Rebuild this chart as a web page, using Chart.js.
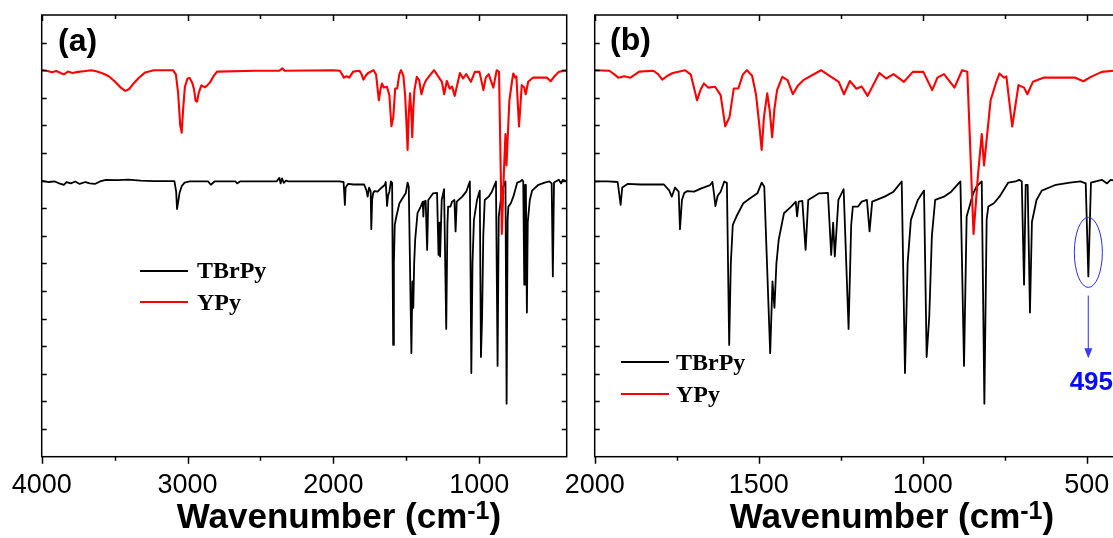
<!DOCTYPE html>
<html>
<head>
<meta charset="utf-8">
<title>FT-IR TBrPy / YPy</title>
<script src="https://cdn.jsdelivr.net/npm/chart.js@4.4.0/dist/chart.umd.min.js"></script>
<style>
    html, body { margin: 0; padding: 0; background: #fff; overflow: hidden; }
    #wrap { position: relative; width: 1113px; height: 538px; overflow: hidden; }
    .box { position: absolute; top: 0; height: 500px; }
    #boxA { left: 0; width: 580px; }
    #boxB { left: 550px; width: 590px; }
    .tag { position: absolute; font: bold 32px "Liberation Sans", Arial, sans-serif; line-height: 32px; }
    .xtitle { position: absolute; top: 498px; font: bold 35px "Liberation Sans", Arial, sans-serif; line-height: 35px; white-space: nowrap; transform: translateX(-50%); }
    .xtitle span { font-size: 25px; vertical-align: 9px; line-height: 20px; }
    .lg-line { position: absolute; width: 48px; height: 2px; }
    .lg-text { position: absolute; font: bold 24px "Liberation Serif", "Times New Roman", serif; line-height: 24px; white-space: nowrap; }
</style>
</head>
<body>
<div id="wrap">
    <div class="box" id="boxA"><canvas id="chartA"></canvas></div>
    <div class="box" id="boxB"><canvas id="chartB"></canvas></div>

    <div class="tag" style="left:58px; top:24px;">(a)</div>
    <div class="tag" style="left:610px; top:23px;">(b)</div>

    <div class="xtitle" style="left:339px;">Wavenumber (cm<span>-1</span>)</div>
    <div class="xtitle" style="left:892px;">Wavenumber (cm<span>-1</span>)</div>

    <!-- legend (a) -->
    <div class="lg-line" style="left:140px; top:270px; background:#000;"></div>
    <div class="lg-text" style="left:197px; top:258px;">TBrPy</div>
    <div class="lg-line" style="left:140px; top:301px; background:#ff0000;"></div>
    <div class="lg-text" style="left:197px; top:290px;">YPy</div>
    <!-- legend (b) -->
    <div class="lg-line" style="left:621px; top:361px; background:#000;"></div>
    <div class="lg-text" style="left:676px; top:350px;">TBrPy</div>
    <div class="lg-line" style="left:621px; top:393px; background:#ff0000;"></div>
    <div class="lg-text" style="left:676px; top:382px;">YPy</div>
</div>

<script>
// Spectra (wavenumber in cm-1, transmittance in offset units)
const tbrpyWn = [4000, 3950, 3910, 3880, 3848, 3830, 3800, 3770, 3740, 3700, 3670, 3635, 3600, 3560, 3480, 3410, 3320, 3235,
    3090, 3078, 3072, 3062, 3055, 3040, 3020, 2985, 2860, 2840, 2815, 2672, 2660, 2640, 2390, 2370, 2362, 2352, 2340, 2325, 2309,
    1960, 1930, 1925, 1921, 1916, 1900, 1860, 1789, 1773, 1765, 1755, 1744, 1740, 1734, 1727, 1718, 1697, 1675, 1648, 1641, 1636,
    1632, 1625, 1616, 1605, 1597, 1590, 1585, 1579, 1568, 1547, 1526, 1504, 1491, 1483, 1465, 1458, 1452, 1446, 1439, 1423, 1401,
    1387, 1383, 1378, 1367, 1357, 1349, 1316, 1289, 1279, 1273, 1268, 1257, 1241, 1226, 1218, 1213, 1197, 1186, 1170, 1162, 1154,
    1116, 1089, 1064, 1054, 1046, 1036, 1015, 996, 988, 980, 972, 962, 935, 913, 885, 874, 866, 846, 836, 820, 812, 805, 800,
    783, 766, 739, 717, 706, 698, 691, 686, 680, 673, 667, 653, 637, 594, 551, 519, 503, 495, 487, 454, 438, 427, 400];
const tbrpyT = [9.99, 9.95, 9.97, 9.9, 9.85, 9.95, 9.9, 9.97, 9.88, 9.95, 9.9, 9.88, 9.97, 10.03, 10.02, 10.04, 10.0, 9.98,
    9.98, 9.6, 8.97, 9.3, 9.55, 9.8, 9.93, 9.97, 9.97, 9.85, 9.97, 9.97, 9.9, 9.97, 9.97, 10.1, 9.9, 10.08, 9.92, 10.0, 9.97,
    9.97, 9.95, 9.5, 9.12, 9.75, 9.88, 9.86, 9.86, 9.65, 9.42, 9.75, 9.6, 8.24, 9.3, 9.55, 9.62, 9.6, 9.72, 9.84, 9.95, 9.5,
    9.08, 9.45, 9.6, 9.97, 9.92, 4.05, 7.0, 8.4, 8.7, 9.18, 9.36, 9.54, 9.93, 9.78, 3.75, 6.35, 5.39, 7.0, 7.86, 8.82, 9.06,
    9.24, 8.7, 9.24, 9.27, 7.49, 9.3, 9.54, 9.56, 7.31, 8.48, 7.25, 9.3, 9.69, 4.63, 8.4, 9.06, 9.06, 9.24, 9.3, 8.16, 9.24,
    9.42, 9.6, 9.97, 3.03, 7.0, 8.58, 9.3, 9.64, 3.61, 5.08, 8.0, 9.3, 9.42, 9.6, 9.97, 3.29, 8.7, 9.54, 9.78, 9.97, 1.92, 8.6, 9.06,
    9.18, 9.42, 9.93, 9.97, 10.03, 9.97, 6.23, 9.85, 9.85, 5.22, 8.5, 9.3, 9.64, 9.85, 9.93, 9.97, 9.9, 6.53, 9.93, 10.03, 9.9, 10.03, 9.97];

const ypyWn = [4000, 3960, 3930, 3900, 3870, 3848, 3820, 3790, 3750, 3700, 3660, 3620, 3580, 3540, 3500, 3460, 3427, 3400,
    3370, 3335, 3290, 3230, 3100, 3080, 3065, 3050, 3040, 3030, 3018, 3000, 2985, 2968, 2955, 2945, 2935, 2922, 2905, 2880,
    2865, 2847, 2820, 2797, 2535, 2370, 2350, 2335, 2000, 1955, 1940, 1928, 1910, 1891, 1864, 1821, 1806, 1794, 1778, 1762,
    1724, 1707, 1698, 1688, 1677, 1667, 1654, 1633, 1616, 1602, 1589, 1576, 1562, 1548, 1536, 1520, 1508, 1498, 1491, 1484,
    1474, 1466, 1459, 1452, 1444, 1428, 1412, 1396, 1380, 1364, 1310, 1256, 1240, 1222, 1202, 1186, 1168, 1132, 1111, 1089,
    1057, 1030, 998, 971, 955, 935, 903, 880, 864, 845, 831, 820, 813, 793, 775, 766, 752, 745, 727, 708, 691, 681, 664, 632,
    578, 535, 510, 487, 454, 419, 400];
const ypyT = [14.0, 13.97, 13.93, 13.97, 13.9, 13.85, 13.95, 13.9, 13.94, 13.97, 14.0, 13.95, 13.88, 13.78, 13.6, 13.38, 13.25, 13.32,
    13.52, 13.72, 13.92, 14.0, 14.0, 13.85, 13.2, 12.0, 11.74, 12.6, 13.4, 13.7, 13.72, 13.55, 13.3, 12.9, 12.86, 13.2, 13.45, 13.38,
    13.45, 13.55, 13.8, 13.95, 13.98, 13.98, 14.07, 13.98, 14.0, 13.98, 13.85, 13.73, 13.78, 13.73, 13.95, 13.98, 13.85, 13.66, 13.8, 13.9,
    14.0, 13.84, 13.4, 12.91, 13.3, 13.52, 13.37, 13.4, 13.1, 11.97, 12.3, 13.34, 13.34, 13.85, 14.0, 13.8, 13.1, 12.0, 11.11, 12.3,
    13.16, 12.5, 11.57, 12.6, 13.28, 13.76, 13.64, 13.13, 13.45, 13.64, 14.0, 13.58, 13.13, 13.61, 13.33, 13.41, 13.07, 13.9, 13.7, 13.86,
    13.58, 13.94, 13.94, 13.28, 13.73, 13.86, 13.37, 14.0, 13.94, 8.07, 10.27, 11.69, 10.55, 12.91, 13.6, 13.88, 13.73, 13.78, 11.96, 13.46, 13.37, 13.13, 13.58, 13.73,
    13.73, 13.73, 13.6, 13.76, 13.94, 13.98, 13.98];

// axis tick labels
const xTicksA = [1000, 2000, 3000, 4000];
const xTicksB = [500, 1000, 1500, 2000];

// marked band in (b)
const noteWn = 495;
const noteLabel = '495';

const toPoints = (wn, t) => wn.map((w, i) => ({ x: w, y: t[i] }));

// frame with inward ticks on top/left/right, outward ticks at the bottom
const frameTicks = {
    id: 'frameTicks',
    afterDatasetsDraw(chart, args, opts) {
        const { ctx, chartArea: a, scales: { x, y } } = chart;
        ctx.save();
        ctx.strokeStyle = '#000';
        ctx.lineWidth = 1.5;
        ctx.strokeRect(a.left, a.top, a.right - a.left, a.bottom - a.top);
        ctx.beginPath();
        for (let w = opts.minor * 2; w <= x.max; w += opts.minor) {
            if (w < x.min) continue;
            const px = Math.round(x.getPixelForValue(w)) + 0.5;
            const major = w % opts.major === 0;
            ctx.moveTo(px, a.bottom);
            ctx.lineTo(px, a.bottom + (major ? 7 : 4));
            ctx.moveTo(px, a.top);
            ctx.lineTo(px, a.top + (major ? 6 : 4));
        }
        for (let v = y.min + 1; v < y.max; v++) {
            const py = Math.round(y.getPixelForValue(v)) + 0.5;
            ctx.moveTo(a.left, py);
            ctx.lineTo(a.left + 5, py);
            ctx.moveTo(a.right, py);
            ctx.lineTo(a.right - 5, py);
        }
        ctx.stroke();
        ctx.restore();
    }
};

// ellipse + arrow + label for the 495 cm-1 band
const peakNote = {
    id: 'peakNote',
    afterDatasetsDraw(chart) {
        const { ctx, scales: { x, y } } = chart;
        const px = x.getPixelForValue(noteWn);
        ctx.save();
        ctx.strokeStyle = '#2a2aff';
        ctx.lineWidth = 1;
        ctx.beginPath();
        ctx.ellipse(px, y.getPixelForValue(7.4), 14, 35, 0, 0, Math.PI * 2);
        ctx.stroke();

        const y0 = y.getPixelForValue(5.84);
        const y1 = y.getPixelForValue(3.57);
        ctx.strokeStyle = '#5a5aff';
        ctx.fillStyle = '#3a3aff';
        ctx.lineWidth = 1.3;
        ctx.beginPath();
        ctx.moveTo(px, y0);
        ctx.lineTo(px, y1 - 8);
        ctx.stroke();
        ctx.beginPath();
        ctx.moveTo(px - 4, y1 - 10);
        ctx.lineTo(px + 4, y1 - 10);
        ctx.lineTo(px, y1);
        ctx.closePath();
        ctx.fill();

        ctx.fillStyle = '#0a0aff';
        ctx.font = 'bold 26px "Liberation Sans", Arial, sans-serif';
        ctx.textAlign = 'center';
        ctx.textBaseline = 'alphabetic';
        ctx.fillText(noteLabel, px + 3, y.getPixelForValue(2.43));
        ctx.restore();
    }
};

function makeChart(id, xMin, xMax, ticks, minor, major, pad, extra) {
    const ctx = document.getElementById(id).getContext('2d');
    return new Chart(ctx, {
        type: 'line',
        data: {
            datasets: [{
                label: 'YPy',
                data: toPoints(ypyWn, ypyT),
                borderColor: '#ff0000',
                borderWidth: 2.1,
                order: 0
            }, {
                label: 'TBrPy',
                data: toPoints(tbrpyWn, tbrpyT),
                borderColor: '#000000',
                borderWidth: 1.8,
                order: 1
            }]
        },
        options: {
            responsive: true,
            maintainAspectRatio: false,
            animation: false,
            elements: { point: { radius: 0 }, line: { tension: 0, borderJoinStyle: 'round' } },
            layout: { padding: pad },
            plugins: {
                legend: { display: false },
                tooltip: { enabled: false },
                frameTicks: { minor: minor, major: major }
            },
            scales: {
                x: {
                    type: 'linear',
                    reverse: true,
                    min: xMin,
                    max: xMax,
                    grid: { display: false, drawTicks: false },
                    border: { display: false },
                    afterBuildTicks: (scale) => { scale.ticks = ticks.map(v => ({ value: v })); },
                    afterFit: (scale) => { scale.height = 43.3; },
                    ticks: {
                        autoSkip: false,
                        maxRotation: 0,
                        padding: 13,
                        color: '#000',
                        font: { family: '"Liberation Sans", Arial, sans-serif', size: 27 },
                        callback: (value) => String(value)
                    }
                },
                y: {
                    display: false,
                    min: 0,
                    max: 16
                }
            }
        },
        plugins: [frameTicks].concat(extra)
    });
}

makeChart('chartA', 400, 4000, xTicksA, 500, 1000, { left: 41.7, right: 13.3, top: 15, bottom: 0 }, []);
makeChart('chartB', 400, 2000, xTicksB, 250, 500, { left: 44.7, right: 20.5, top: 15, bottom: 0 }, [peakNote]);
</script>
</body>
</html>
